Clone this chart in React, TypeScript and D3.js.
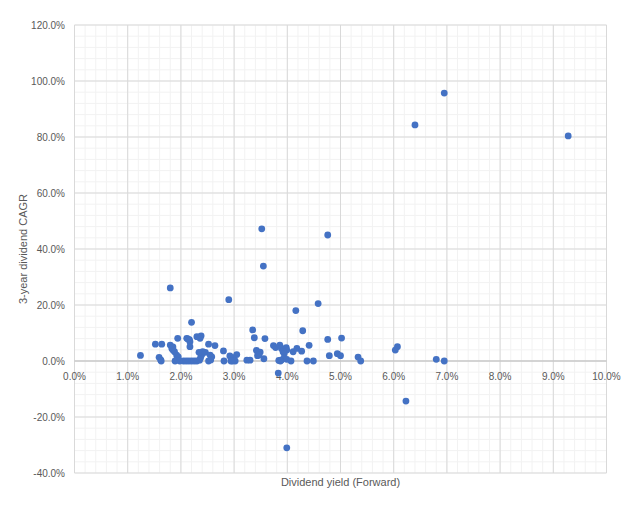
import React from "react";
import * as d3 from "d3";

// Dividend yield (forward, %) and 3-year dividend CAGR (%)
const yieldPct: number[] = [
  6.95, 6.40, 9.28, 3.52, 4.76, 3.55, 1.80, 2.90, 4.58, 4.16, 6.23, 3.99, 3.83,
  1.24, 1.52, 1.64, 1.59, 1.62, 1.63,
  1.80, 1.83, 1.85, 1.88, 1.85,
  1.94, 1.92, 1.95, 1.92, 1.89, 1.98,
  2.05, 2.10, 2.15, 2.20, 2.25, 2.30, 2.35,
  2.20, 2.11, 2.16, 2.17, 2.17, 2.13,
  2.30, 2.38, 2.36, 2.41, 2.39, 2.37, 2.34, 2.46,
  2.52, 2.55, 2.58, 2.52, 2.56, 2.64,
  2.80, 2.81,
  2.92, 2.99, 3.05, 2.97, 3.02, 2.94,
  3.24, 3.30,
  3.35, 3.38, 3.42, 3.45, 3.44, 3.49, 3.47, 3.56, 3.58,
  3.74, 3.78, 3.86, 3.89, 3.98, 3.99, 3.92, 3.94, 3.84, 3.89, 3.94, 3.99, 3.87,
  4.07, 4.11, 4.18, 4.27, 4.29, 4.41, 4.37, 4.49,
  4.76, 5.02, 4.79, 4.94, 5.00, 5.33, 5.38, 6.03, 6.07, 6.80, 6.95,
];
const cagrPct: number[] = [
  95.7, 84.3, 80.4, 47.2, 45.0, 33.9, 26.1, 21.9, 20.5, 18.0, -14.3, -31.0, -4.3,
  2.0, 6.0, 6.0, 1.3, 0.4, 0,
  5.7, 4.5, 3.9, 3.3, 5.0,
  8.1, 2.1, 1.5, 0.4, 0, 0,
  0, 0, 0, 0, 0, 0, 0.3,
  13.8, 8.1, 7.6, 6.9, 5.1, 7.9,
  8.7, 9.0, 8.1, 3.3, 2.1, 1.2, 3.1, 3.1,
  6.0, 2.1, 1.5, 0, 0.4, 5.5,
  3.6, 0,
  1.8, 1.2, 2.3, 0, 0, 0,
  0.3, 0.3,
  11.1, 8.3, 3.8, 2.7, 1.9, 3.2, 2.2, 0.8, 8.0,
  5.5, 4.8, 5.7, 4.5, 4.8, 3.9, 3.3, 2.7, 0.2, 0.4, 1.0, 0.6, 0,
  0, 3.3, 4.5, 3.5, 10.8, 5.6, 0, 0,
  7.7, 8.2, 1.9, 2.6, 1.9, 1.4, 0, 3.9, 5.1, 0.6, 0,
];

const xTicks: number[] = [0, 1, 2, 3, 4, 5, 6, 7, 8, 9, 10];
const yTicks: number[] = [-40, -20, 0, 20, 40, 60, 80, 100, 120];
const xTitle = "Dividend yield (Forward)";
const yTitle = "3-year dividend CAGR";

const W = 640;
const H = 508;
const FONT = "'Liberation Sans', Arial, sans-serif";

export default function App() {
  const x = d3.scaleLinear().domain([0, 10]).range([74.5, 606.5]);
  const y = d3.scaleLinear().domain([-40, 120]).range([473, 25]);

  const xMinor = d3.range(0, 10.0001, 0.2);
  const yMinor = d3.range(-40, 120.0001, 4);

  const pts = yieldPct.map((v, i) => ({ x: v, y: cagrPct[i] }));

  return (
    <svg
      width={W}
      height={H}
      style={{ position: "absolute", left: 0, top: 0, background: "#fff" }}
      fontFamily={FONT}
    >
      <rect x={0} y={0} width={W} height={H} fill="#fff" />
      {/* minor grid */}
      <g stroke="#f2f2f2" strokeWidth={1}>
        {xMinor.map((t, i) => (
          <line key={"xm" + i} x1={x(t)} x2={x(t)} y1={y(120)} y2={y(-40)} />
        ))}
        {yMinor.map((t, i) => (
          <line key={"ym" + i} x1={x(0)} x2={x(10)} y1={y(t)} y2={y(t)} />
        ))}
      </g>
      {/* major grid */}
      <g stroke="#d9d9d9" strokeWidth={1}>
        {xTicks.map((t) => (
          <line key={"xM" + t} x1={x(t)} x2={x(t)} y1={y(120)} y2={y(-40)} />
        ))}
        {yTicks.map((t) => (
          <line key={"yM" + t} x1={x(0)} x2={x(10)} y1={y(t)} y2={y(t)} />
        ))}
      </g>
      {/* zero axis */}
      <line x1={x(0)} x2={x(10)} y1={y(0)} y2={y(0)} stroke="#bfbfbf" strokeWidth={1} />

      {/* y tick labels */}
      <g fontSize={10} fill="#595959" textAnchor="end">
        {yTicks.map((t) => (
          <text key={"yl" + t} x={65} y={y(t)} dy="0.35em">
            {t.toFixed(1) + "%"}
          </text>
        ))}
      </g>
      {/* x tick labels */}
      <g fontSize={10} fill="#595959" textAnchor="middle">
        {xTicks.map((t) => (
          <text key={"xl" + t} x={x(t)} y={y(0) + 15} dy="0.35em">
            {t.toFixed(1) + "%"}
          </text>
        ))}
      </g>

      {/* points */}
      <g fill="#4472c4">
        {pts.map((p, i) => (
          <circle key={i} cx={x(p.x)} cy={y(p.y)} r={3.4} />
        ))}
      </g>

      {/* titles */}
      <text x={(x(0) + x(10)) / 2} y={482} dy="0.35em" textAnchor="middle" fontSize={11} fill="#595959">
        {xTitle}
      </text>
      <text
        transform={`translate(23,${(y(120) + y(-40)) / 2}) rotate(-90)`}
        dy="0.35em"
        textAnchor="middle"
        fontSize={11}
        fill="#595959"
      >
        {yTitle}
      </text>
    </svg>
  );
}
